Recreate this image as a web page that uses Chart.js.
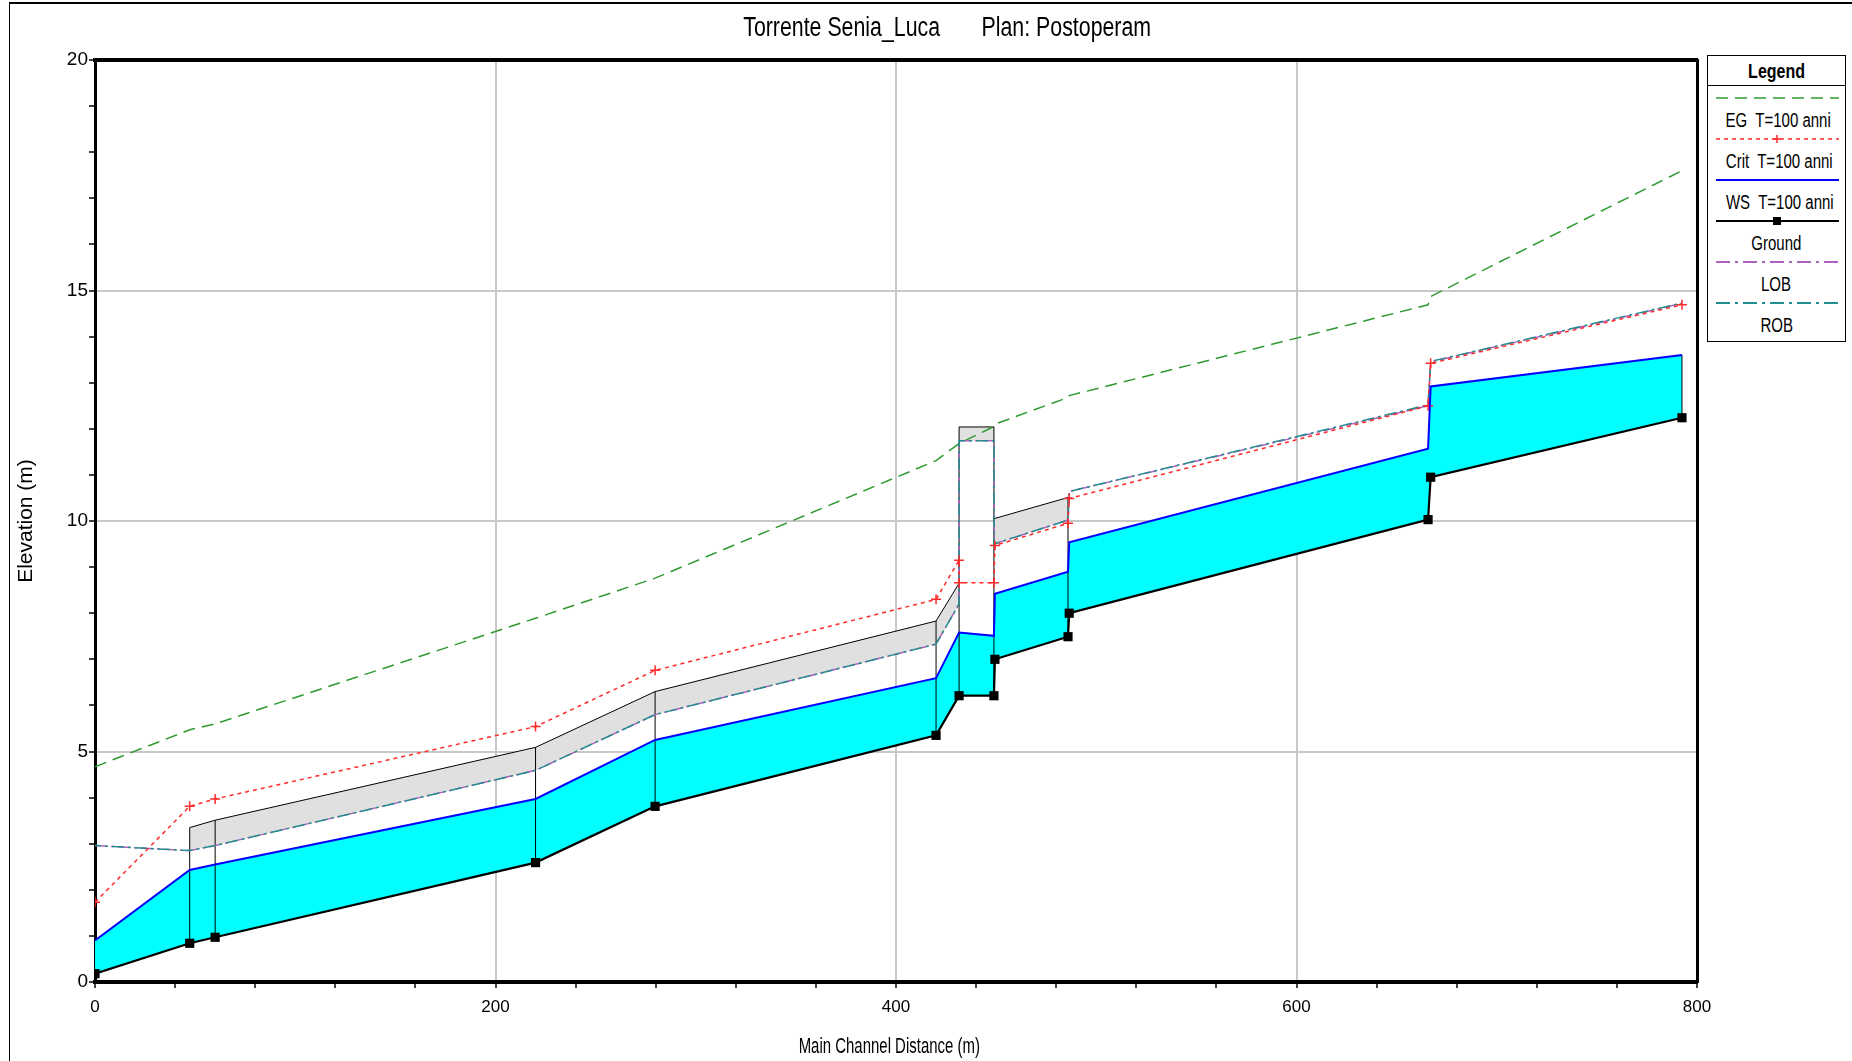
<!DOCTYPE html>
<html lang="it">
<head>
<meta charset="UTF-8" />
<title>Torrente Senia_Luca - Profilo</title>
<script src="https://cdn.jsdelivr.net/npm/chart.js"></script>
<style>
  html, body { margin: 0; padding: 0; background: #fff; }
  body {
    width: 1852px; height: 1061px; position: relative; overflow: hidden;
    font-family: "Liberation Sans", Arial, sans-serif;
    color: #000;
  }
  #frame {
    position: absolute; left: 9px; top: 2px; right: -4px; bottom: -4px;
    border-top: 2px solid #000; border-left: 1px solid #000;
  }
  canvas { position: absolute; left: 0; top: 0; }
  /* testi stretti come nel grafico originale di HEC-RAS */
  .narrow { display: inline-block; transform-origin: 50% 50%; white-space: pre; }
  #title {
    position: absolute; top: 12px; left: 0; width: 1894px;
    text-align: center; font-size: 27px; line-height: 30px;
  }
  #title .narrow { transform: scaleX(0.79); }
  #xtitle {
    position: absolute; top: 1034px; left: 0; width: 1778px;
    text-align: center; font-size: 22px; line-height: 24px;
  }
  #xtitle .narrow { transform: scaleX(0.68); }
  .legend {
    position: absolute; left: 1707px; top: 55px; width: 137px; height: 285px;
    border: 1px solid #000; background: #fff;
  }
  .legend .head {
    height: 29px; border-bottom: 1px solid #000; text-align: center;
    font-weight: bold; font-size: 20px; line-height: 30px;
  }
  .legend .head .narrow { transform: scaleX(0.8); }
  .legend svg { position: absolute; left: 8px; }
  .legend .lab {
    position: absolute; left: 0; width: 137px; text-align: center;
    font-size: 20px; line-height: 22px;
  }
  .legend .lab .narrow { transform: scaleX(0.75); }
</style>
</head>
<body>
  <div id="frame"></div>
  <canvas id="profile" width="1852" height="1061"></canvas>
  <div id="title"><span class="narrow">Torrente Senia_Luca       Plan: Postoperam</span></div>
  <div id="xtitle"><span class="narrow">Main Channel Distance (m)</span></div>
  <div class="legend" id="legend"><div class="head"><span class="narrow">Legend</span></div></div>

<script>
// sezioni (distanza lungo il canale principale, m) e quote (m)
const stations   = [0, 47.3, 60, 220, 279.7, 420, 431.5, 448.9, 449.4, 485.9, 486.5, 665.7, 667, 792.5];
const groundElev = [0.18, 0.84, 0.97, 2.59, 3.81, 5.35, 6.21, 6.21, 7.0, 7.49, 8.0, 10.03, 10.95, 12.24];
const wsElev     = [0.9, 2.43, 2.55, 3.97, 5.25, 6.59, 7.58, 7.51, 8.42, 8.9, 9.54, 11.57, 12.92, 13.6];
const egElev     = [4.67, 5.47, 5.6, 7.89, 8.76, 11.31, 11.68, 12.05, 12.1, 12.68, 12.72, 14.69, 14.87, 17.6];

const critSta  = [0, 47.3, 60, 220, 279.7, 420, 431.5, 431.5, 448.9, 449.4, 485.9, 486.5, 665.7, 667, 792.5];
const critElev = [1.73, 3.81, 3.97, 5.54, 6.76, 8.3, 9.15, 8.66, 8.66, 9.47, 9.95, 10.49, 12.5, 13.42, 14.69];

const bankSta = [0, 47.3, 60, 220, 279.7, 420, 431.5, 431.5, 448.9, 448.9, 485.9, 486.5, 665.7, 667, 792.5];
const lobElev = [2.96, 2.85, 2.96, 4.59, 5.8, 7.33, 8.2, 11.74, 11.74, 9.5, 10.02, 10.64, 12.5, 13.45, 14.72];
const robElev = [2.96, 2.85, 2.96, 4.59, 5.8, 7.33, 8.2, 11.74, 11.74, 9.5, 10.02, 10.64, 12.52, 13.46, 14.73];

// tombino a monte, impalcato del ponte, tombino a valle
const roofSta  = [47.3, 60, 220, 279.7, 420, 431.5];
const roofTop  = [3.35, 3.51, 5.09, 6.3, 7.83, 8.65];
const roofLow  = [2.85, 2.96, 4.59, 5.8, 7.33, 8.2];
const deckSta  = [431.5, 448.9];
const deckTop  = [12.04, 12.04];
const deckLow  = [11.74, 11.74];
const roof2Sta = [448.9, 485.9];
const roof2Top = [10.05, 10.51];
const roof2Low = [9.5, 10.02];

// montanti verticali delle strutture
const postSta  = [47.3, 60, 220, 279.7, 420, 431.5, 448.9, 485.9, 792.5];
const postBase = [0.84, 0.97, 2.59, 3.81, 5.35, 6.21, 6.21, 7.49, 12.24];
const postTop  = [3.35, 3.51, 5.09, 6.3, 7.83, 12.04, 12.04, 10.51, 13.6];

const legendLabels = ['EG  T=100 anni', 'Crit  T=100 anni', 'WS  T=100 anni', 'Ground', 'LOB', 'ROB'];
const xLabelStep = 200;
const yLabelStep = 5;

const pts = (xs, ys) => xs.map((x, i) => ({ x, y: ys[i] }));
const gap = x => ({ x, y: null });

const waterShape = [...pts(stations, wsElev), ...pts(stations, groundElev).reverse()];
const roofShape = [
  ...pts(roofSta, roofTop), ...pts(roofSta, roofLow).reverse(), gap(431.5),
  ...pts(deckSta, deckTop), ...pts(deckSta, deckLow).reverse(), gap(448.9),
  ...pts(roof2Sta, roof2Top), ...pts(roof2Sta, roof2Low).reverse()
];
const roofLine = [
  ...pts(roofSta, roofTop), gap(431.5),
  ...pts(deckSta, deckTop), gap(448.9),
  ...pts(roof2Sta, roof2Top)
];
const posts = [];
postSta.forEach((s, i) => { posts.push({ x: s, y: postBase[i] }, { x: s, y: postTop[i] }, gap(s)); });

Chart.defaults.font.family = '"Liberation Sans", Arial, sans-serif';
Chart.defaults.color = '#000';

const COLORS = {
  eg: '#2f9a2f', crit: '#ff2a2a', ws: '#0000ff', ground: '#000000',
  lob: '#b060c0', rob: '#238c8c', water: '#00ffff', roof: '#e0e0e0'
};

new Chart(document.getElementById('profile'), {
  type: 'line',
  data: {
    datasets: [
      { data: waterShape, fill: 'shape', backgroundColor: COLORS.water, borderWidth: 0, pointRadius: 0, order: 10 },
      { data: roofShape, fill: 'shape', backgroundColor: COLORS.roof, borderWidth: 0, pointRadius: 0, order: 9 },
      { data: roofLine, borderColor: '#000', borderWidth: 1, pointRadius: 0, order: 8 },
      { data: posts, borderColor: '#000', borderWidth: 1, pointRadius: 0, order: 8 },
      { label: legendLabels[0], data: pts(stations, egElev), borderColor: COLORS.eg, borderWidth: 1.5,
        borderDash: [12, 7], pointRadius: 0, order: 7 },
      { label: legendLabels[4], data: pts(bankSta, lobElev), borderColor: COLORS.lob, borderWidth: 1.5,
        borderDash: [12, 4, 3, 4], pointRadius: 0, order: 6 },
      { label: legendLabels[5], data: pts(bankSta, robElev), borderColor: COLORS.rob, borderWidth: 1.5,
        borderDash: [12, 4, 3, 4], borderDashOffset: 6, pointRadius: 0, order: 5 },
      { label: legendLabels[1], data: pts(critSta, critElev), borderColor: COLORS.crit, borderWidth: 1.5,
        borderDash: [4, 4], pointStyle: 'cross', pointRadius: 5, pointBorderWidth: 1.5,
        pointBorderColor: COLORS.crit, order: 4 },
      { label: legendLabels[2], data: pts(stations, wsElev), borderColor: COLORS.ws, borderWidth: 2,
        pointRadius: 0, order: 3 },
      { label: legendLabels[3], data: pts(stations, groundElev), borderColor: COLORS.ground, borderWidth: 2.2,
        pointStyle: 'rect', pointRadius: 6.5, pointBackgroundColor: '#000', pointBorderWidth: 0, order: 2 }
    ]
  },
  options: {
    responsive: false,
    animation: false,
    events: [],
    layout: { padding: { left: 0, right: 155, top: 60, bottom: 0 } },
    plugins: { legend: { display: false }, tooltip: { enabled: false }, title: { display: false } },
    scales: {
      x: {
        type: 'linear', position: 'bottom', min: 0, max: 800,
        afterFit: s => { s.height = 79; },
        ticks: {
          stepSize: 40, autoSkip: false, maxRotation: 0, padding: 9,
          font: { size: 17 },
          callback: v => (v % xLabelStep === 0 ? v : '')
        },
        grid: {
          color: c => (c.tick && c.tick.value % xLabelStep === 0 ? '#c8c8c8' : 'rgba(0,0,0,0)'),
          lineWidth: 2, tickColor: '#000', tickLength: 6, tickWidth: 1.5
        },
        border: { display: true, color: '#000', width: 4 }
      },
      y: {
        type: 'linear', position: 'left', min: 0, max: 20,
        afterFit: s => { s.width = 95; },
        ticks: {
          stepSize: 1, autoSkip: false, padding: 1, font: { size: 19 },
          callback: v => (v % yLabelStep === 0 ? v : '')
        },
        grid: {
          color: c => (c.tick && c.tick.value % yLabelStep === 0 ? '#c8c8c8' : 'rgba(0,0,0,0)'),
          lineWidth: 2, tickColor: '#000', tickLength: 6, tickWidth: 1.5
        },
        border: { display: true, color: '#000', width: 3 },
        title: { display: true, text: 'Elevation (m)', font: { size: 21 }, padding: { top: 14, bottom: 0 } }
      },
      xTop: {
        type: 'linear', position: 'top', min: 0, max: 800,
        afterFit: s => { s.height = 0; },
        ticks: { display: false }, grid: { display: false, drawTicks: false },
        border: { display: true, color: '#000', width: 4 }
      },
      yRight: {
        type: 'linear', position: 'right', min: 0, max: 20,
        afterFit: s => { s.width = 0; },
        ticks: { display: false }, grid: { display: false, drawTicks: false },
        border: { display: true, color: '#000', width: 3 }
      }
    }
  }
});

// legenda: campione di linea sopra, etichetta sotto
const legend = document.getElementById('legend');
const samples = [
  `<line x1="0" y1="4" x2="123" y2="4" stroke="${COLORS.eg}" stroke-width="1.5" stroke-dasharray="12 7"/>`,
  `<line x1="0" y1="4" x2="123" y2="4" stroke="${COLORS.crit}" stroke-width="1.5" stroke-dasharray="4 4"/>
   <path d="M57 4h8M61 0v8" stroke="${COLORS.crit}" stroke-width="1.5"/>`,
  `<line x1="0" y1="4" x2="123" y2="4" stroke="${COLORS.ws}" stroke-width="2"/>`,
  `<line x1="0" y1="4" x2="123" y2="4" stroke="${COLORS.ground}" stroke-width="2"/>
   <rect x="57" y="0" width="8" height="8" fill="#000"/>`,
  `<line x1="0" y1="4" x2="123" y2="4" stroke="${COLORS.lob}" stroke-width="2" stroke-dasharray="14 5 3 5"/>`,
  `<line x1="0" y1="4" x2="123" y2="4" stroke="${COLORS.rob}" stroke-width="2" stroke-dasharray="14 5 3 5"/>`
];
legendLabels.forEach((text, i) => {
  const lineY = 38 + i * 41;
  legend.insertAdjacentHTML('beforeend',
    `<svg width="124" height="8" style="top:${lineY}px">${samples[i]}</svg>` +
    `<div class="lab" style="top:${lineY + 15}px"><span class="narrow">${text}</span></div>`);
});
</script>
</body>
</html>
